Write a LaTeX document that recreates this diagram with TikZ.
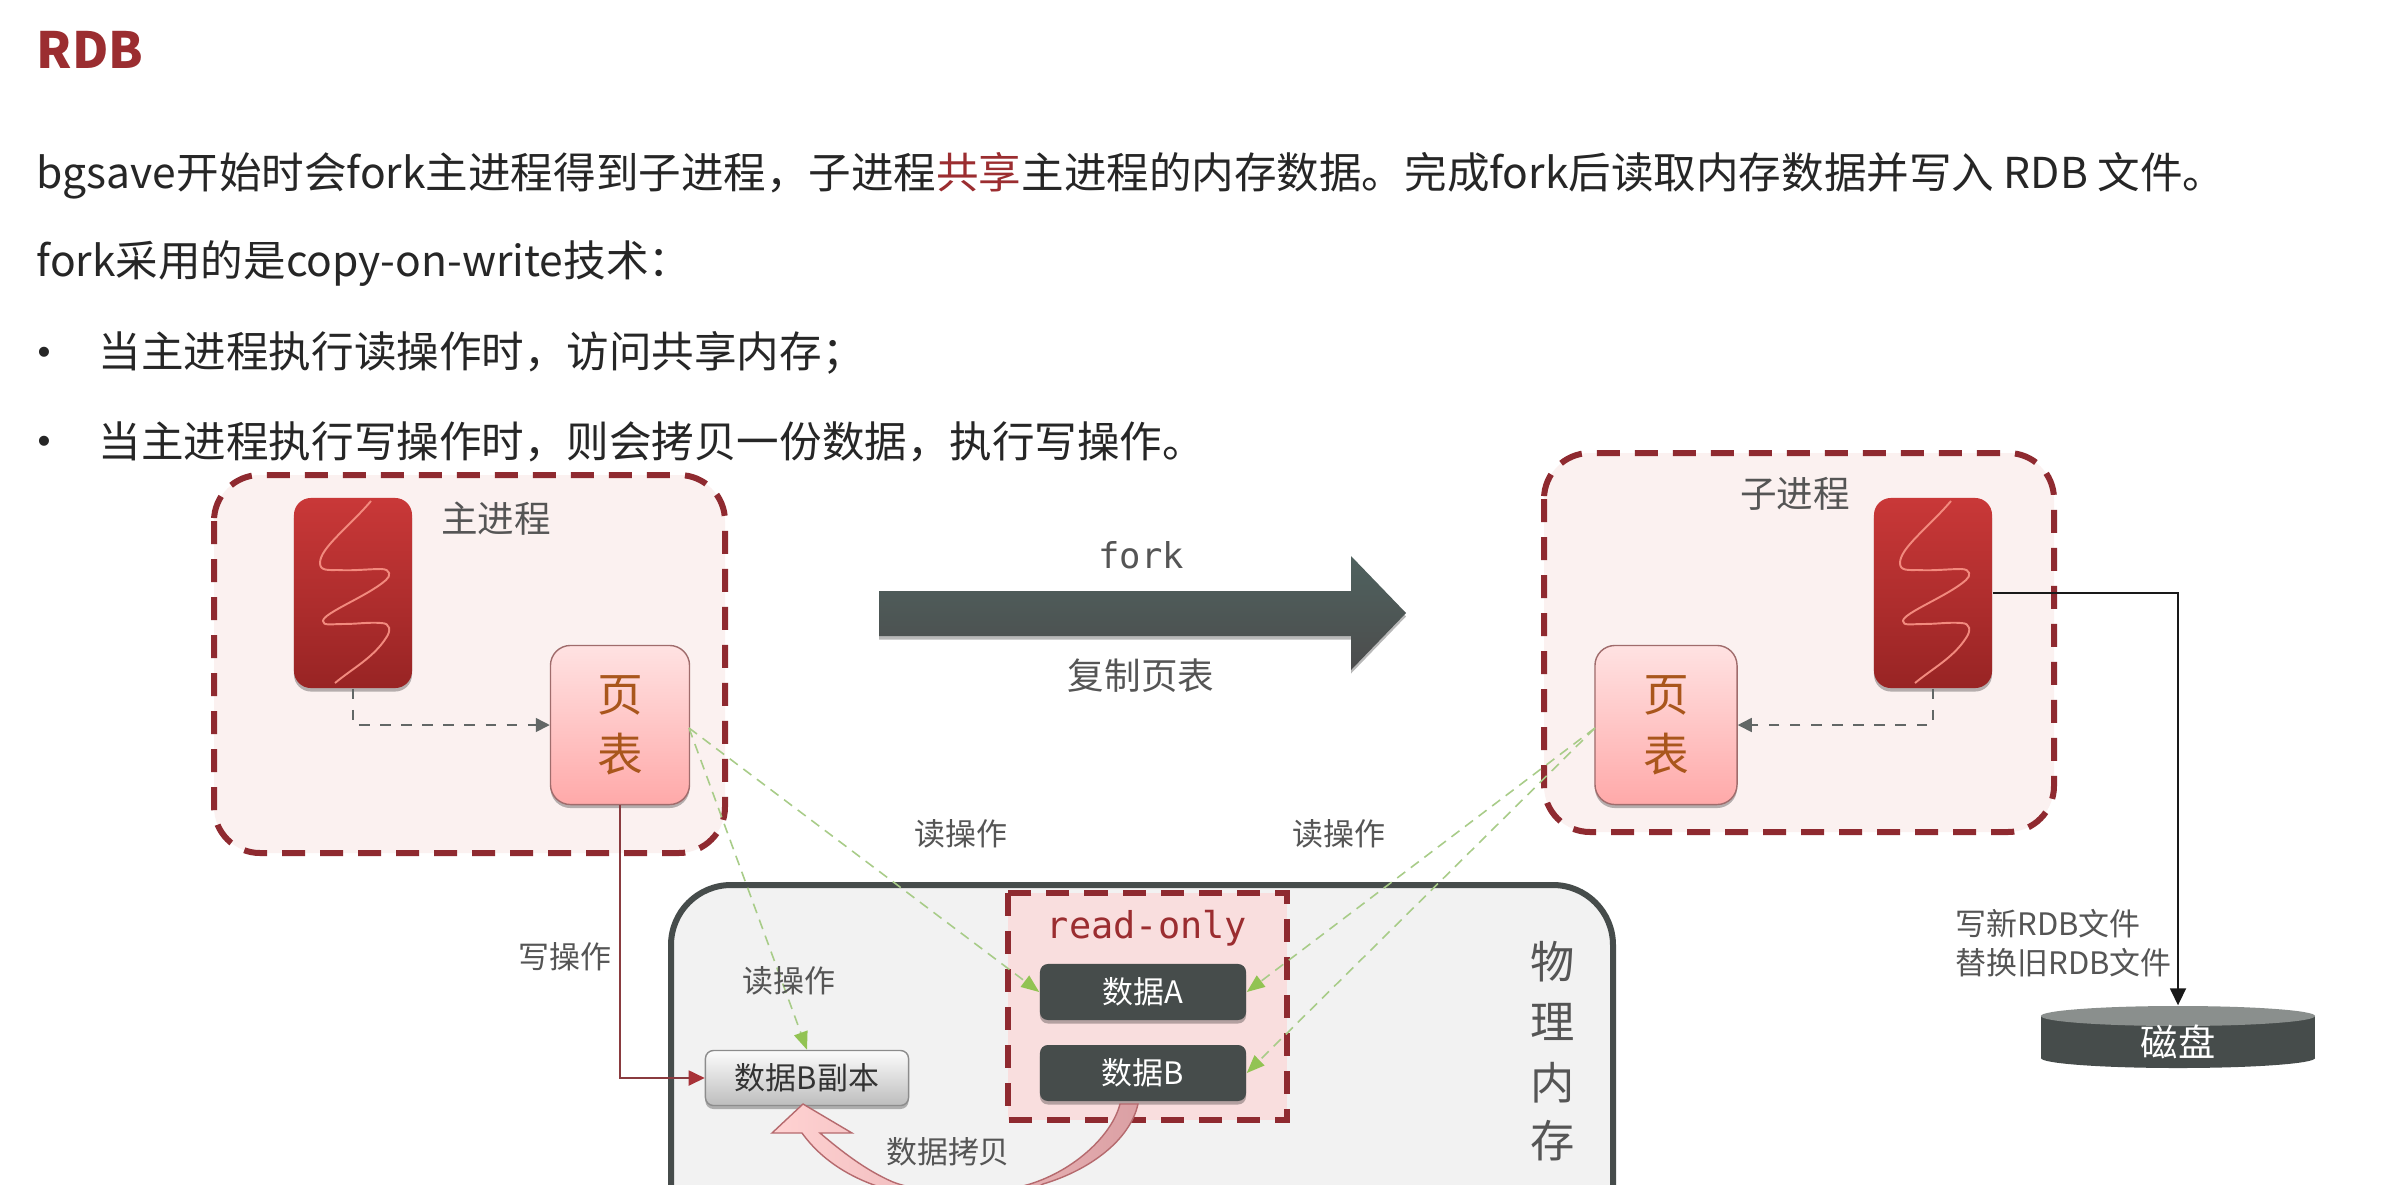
\documentclass[tikz,border=0pt]{standalone}
\usepackage{fontspec}
\setmainfont{Noto Sans CJK SC}
\newfontfamily\monof{DejaVu Sans Mono}
\newfontfamily\bulf{Liberation Sans}
\usetikzlibrary{arrows.meta,shadows,positioning}
\definecolor{dred}{HTML}{8F2A30}
\definecolor{tred}{HTML}{9B2D30}
\definecolor{dark}{HTML}{464C4B}
\definecolor{lbl}{HTML}{555555}
\definecolor{grn}{HTML}{A8CC88}
\definecolor{grnt}{HTML}{92C353}
\definecolor{thtop}{HTML}{C93838}
\definecolor{thbot}{HTML}{982424}
\definecolor{ptedge}{HTML}{A06C6C}
\definecolor{pttop}{HTML}{FFE2E2}
\definecolor{ptbot}{HTML}{FFA9A9}
\definecolor{pttext}{HTML}{A9561C}
\definecolor{cptop}{HTML}{FCFCFC}
\definecolor{cpbot}{HTML}{BDBDBD}
\definecolor{sqc}{HTML}{F28A7E}
\definecolor{redl}{HTML}{8A3B3F}
\definecolor{redt}{HTML}{A83238}
\definecolor{grpfill}{HTML}{FBF1F0}
\definecolor{memfill}{HTML}{F2F2F2}
\definecolor{rofill}{HTML}{F9DEDE}
\definecolor{forktop}{HTML}{4F625F}
\definecolor{forkbot}{HTML}{4C4C4C}
\definecolor{disktop}{HTML}{8A8F8D}
\definecolor{cal}{HTML}{FFD2D2}
\definecolor{car}{HTML}{DBA0A4}
\definecolor{cae}{HTML}{B56A6E}
\newcommand\fs[1]{\fontsize{#1}{#1}\selectfont}
\tikzset{
  x=0.01cm,y=-0.01cm,
  softsh/.style={drop shadow={shadow xshift=0pt,shadow yshift=-0.035cm,opacity=.28,fill=black}},
  body/.style={anchor=west,inner sep=0pt,text=black!85,font=\fs{12.1}},
  bulletmark/.style={inner sep=0pt,text=black!85,font=\fs{10.5}\bulf},
  lab/.style={inner sep=0pt,text=lbl,font=\fs{8.8}},
  groupbox/.style={draw=dred,line width=0.06cm,dash pattern=on 0.23cm off 0.15cm,rounded corners=0.46cm,fill=grpfill},
  thread/.style={rounded corners=0.17cm,minimum width=1.18cm,minimum height=1.9cm,inner sep=0pt,top color=thtop,bottom color=thbot,softsh},
  pagetab/.style={rounded corners=0.2cm,draw=ptedge,line width=0.4pt,top color=pttop,bottom color=ptbot,inner sep=0pt,align=center,text=pttext,font=\fs{13},softsh},
  dataA/.style={rounded corners=0.08cm,fill=dark,text=white,inner sep=0pt,minimum width=2.06cm,minimum height=0.56cm,font=\fs{8.8},softsh},
  copybox/.style={rounded corners=0.08cm,draw=gray!90,line width=0.4pt,top color=cptop,bottom color=cpbot,text=black!80,inner sep=0pt,minimum width=2.03cm,minimum height=0.55cm,font=\fs{8.8},softsh},
  squig/.style={draw=sqc,line width=0.55pt,fill=none},
  dashc/.style={draw=dark!85,line width=0.45pt,dashed,-{Triangle[length=0.14cm,width=0.14cm]}},
  greenc/.style={draw=grn,line width=0.45pt,dash pattern=on 0.1cm off 0.07cm,-{Triangle[length=0.18cm,width=0.14cm,color=grnt]}},
  redc/.style={draw=redl,line width=0.5pt,-{Triangle[length=0.16cm,width=0.15cm,color=redt]}},
  blackc/.style={draw=black!90,line width=0.5pt,-{Triangle[length=0.17cm,width=0.16cm]}}
}
\newcommand\squiggle[1]{\begin{scope}[shift={(#1.center)}]
  \draw[squig] (18,-92) .. controls (-5,-65) and (-33,-45) .. (-33,-30) .. controls (-33,-22) and (-25,-23) .. (-15,-23) .. controls (0,-22) and (15,-24) .. (28,-24) .. controls (38,-24) and (38,-17) .. (33,-13) .. controls (15,3) and (-30,20) .. (-30,28) .. controls (-30,33) and (-22,31) .. (-10,31) .. controls (5,31) and (15,29) .. (28,30) .. controls (38,30) and (38,38) .. (33,45) .. controls (20,65) and (0,75) .. (-18,90);
\end{scope}}
\begin{document}
\begin{tikzpicture}
\path[use as bounding box] (0,0) rectangle (2402,1184);
\clip (0,0) rectangle (2402,1184);
\fill[white] (0,0) rectangle (2402,1184);

% heading and body text
\node[anchor=west,inner sep=0pt,text=tred,font=\fs{14.2}\bfseries] (title) at (36,50) {RDB};
\node[body] (l1) at (36,176) {bgsave开始时会fork主进程得到子进程，子进程{\color{tred}共享}主进程的内存数据。完成fork后读取内存数据并写入 RDB 文件。};
\node[body] (l2) at (36,264) {fork采用的是copy-on-write技术：};
\node[bulletmark] (b1) at (44,356) {•};
\node[body] (l3) at (98,353) {当主进程执行读操作时，访问共享内存；};
\node[bulletmark] (b2) at (44,445) {•};
\node[body] (l4) at (98,442) {当主进程执行写操作时，则会拷贝一份数据，执行写操作。};

% process groups
\draw[groupbox] (214,475) rectangle (725,853);
\draw[groupbox] (1544,453) rectangle (2054,832);
\node[lab,font=\fs{10.4}] (mainl) at (496,519) {主进程};
\node[lab,font=\fs{10.4}] (childl) at (1795,494) {子进程};

\node[thread] (t1) at (353,593) {};
\squiggle{t1}
\node[thread] (t2) at (1933,593) {};
\squiggle{t2}
\node[pagetab,minimum width=1.39cm,minimum height=1.59cm] (pt1) at (620,725) {页\\[0.14cm]表};
\node[pagetab,minimum width=1.42cm,minimum height=1.59cm] (pt2) at (1666,725) {页\\[0.14cm]表};
\draw[dashc] (t1.south) |- (pt1.west);
\draw[dashc] (t2.south) |- (pt2.east);

% fork arrow
\path[top color=forktop,bottom color=forkbot,softsh] (879,591) -- (1351,591) -- (1351,556) -- (1406,613) -- (1351,670) -- (1351,636) -- (879,636) -- cycle;
\node[inner sep=0pt,text=lbl,font=\fs{10.1}\monof] (forkl) at (1141,555) {fork};
\node[lab,font=\fs{10.4}] (copyl) at (1141,676) {复制页表};

% physical memory
\draw[draw=dark,line width=0.06cm,fill=memfill,rounded corners=0.6cm] (671,885) rectangle (1613,1300);
\draw[draw=dred,line width=0.06cm,dash pattern=on 0.23cm off 0.15cm,fill=rofill] (1008,893) rectangle (1287,1120);
\node[inner sep=0pt,text=tred,font=\fs{10.5}\monof] (rol) at (1147,928) {read-only};
\node[dataA] (d1) at (1143,992) {数据A};
\node[dataA] (d2) at (1143,1073) {数据B};
\node[copybox] (cp) at (807,1078) {数据B副本};
\node[inner sep=0pt,text=lbl,font=\fs{12.6}] (m1) at (1553,962) {物};
\node[inner sep=0pt,text=lbl,font=\fs{12.6}] (m2) at (1553,1022) {理};
\node[inner sep=0pt,text=lbl,font=\fs{12.6}] (m3) at (1553,1083) {内};
\node[inner sep=0pt,text=lbl,font=\fs{12.6}] (m4) at (1553,1141) {存};

% copy arrow
\path[left color=cal,right color=car,draw=cae,line width=0.4pt]
  (1120,1104) .. controls (1112,1135) and (1075,1170) .. (1030,1184) .. controls (990,1196) and (930,1196) .. (893,1182) .. controls (865,1170) and (840,1150) .. (820,1133) -- (852,1133) -- (803,1104) -- (772,1133) -- (802,1133) .. controls (825,1165) and (860,1182) .. (890,1190) .. controls (930,1210) and (1000,1210) .. (1043,1184) .. controls (1090,1170) and (1130,1140) .. (1138,1104) -- cycle;
\node[lab] (copyd) at (948,1152) {数据拷贝};

% connectors
\coordinate (pt1g) at (689,728);
\coordinate (pt2g) at (1595,728);
\draw[greenc] (pt1g) -- (d1.west);
\draw[greenc] (pt1g) -- (cp.north);
\draw[greenc] (pt2g) -- (d1.east);
\draw[greenc] (pt2g) -- (d2.east);
\draw[redc] (pt1.south) |- (cp.west);

\node[lab] (r1) at (961,834) {读操作};
\node[lab] (r2) at (1339,834) {读操作};
\node[lab] (r3) at (789,981) {读操作};
\node[lab] (w1) at (565,957) {写操作};

% disk
\fill[dark] (2041,1016) rectangle (2315,1058);
\fill[dark] (2178,1058) ellipse [x radius=1.37cm,y radius=0.1cm];
\fill[disktop] (2178,1016) ellipse [x radius=1.37cm,y radius=0.1cm];
\node[inner sep=0pt,minimum width=2.74cm,minimum height=0.72cm,text=white,font=\fs{10.6}] (disk) at (2178,1042) {磁盘};
\draw[blackc] (t2.east) -| (disk.north);
\node[lab,anchor=west] (wr1) at (1955,924) {写新RDB文件};
\node[lab,anchor=west] (wr2) at (1955,963) {替换旧RDB文件};
\end{tikzpicture}
\end{document}
